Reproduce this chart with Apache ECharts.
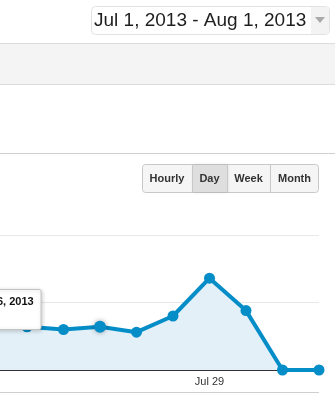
<!DOCTYPE html>
<html>
<head>
<meta charset="utf-8">
<script src="https://cdn.jsdelivr.net/npm/echarts@6/dist/echarts.min.js"></script>
<style>
html,body{margin:0;padding:0;background:#fff;}
#chart{width:335px;height:394px;}
</style>
</head>
<body>
<div id="chart"></div>
<script>
// Data (visible portion of a Jul 1 – Aug 1, 2013 daily chart)
var categories = ['Jul 23','Jul 24','Jul 25','Jul 26','Jul 27','Jul 28','Jul 29','Jul 30','Jul 31','Aug 1'];
var visits = [32, 32, 30, 32, 28, 40, 68, 44, 0, 0];
var xTickLabels = ['Jul 29'];
var yTicks = [0, 50, 100];
var dateRangeText = 'Jul 1, 2013 - Aug 1, 2013';
var periodButtons = ['Hourly', 'Day', 'Week', 'Month'];
var activeButton = 'Day';
var tooltipText = '6, 2013';
var hoveredIndex = 3;
var visibleStart = 0.26; // left edge of the cropped view, in days from Jul 23

var chart = echarts.init(document.getElementById('chart'), null, {renderer: 'canvas'});

var btnX = [142, 192, 227, 270, 319];
var graphics = [];
// date range box
graphics.push({type:'rect', shape:{x:91.5,y:6.5,width:238,height:28,r:4}, style:{fill:'#fff',stroke:'#e2e2e2',lineWidth:1}, z:10});
graphics.push({type:'rect', shape:{x:311,y:7,width:18,height:27,r:[0,3,3,0]}, style:{fill:'#f3f3f3'}, z:11});
graphics.push({type:'polygon', shape:{points:[[315,17],[325,17],[320,23]]}, style:{fill:'#aaa'}, z:12});
graphics.push({type:'text', x:94, y:20.5, style:{text:dateRangeText, font:'19px "Liberation Sans", Arial, sans-serif', fill:'#1e1e1e', verticalAlign:'middle'}, z:12});
// grey band
graphics.push({type:'rect', shape:{x:0,y:43,width:335,height:41}, style:{fill:'#f4f4f4'}, z:1});
graphics.push({type:'line', shape:{x1:0,y1:43.5,x2:335,y2:43.5}, style:{stroke:'#dcdcdc',lineWidth:1}, z:2});
graphics.push({type:'line', shape:{x1:0,y1:84.5,x2:335,y2:84.5}, style:{stroke:'#dcdcdc',lineWidth:1}, z:2});
// separator line
graphics.push({type:'line', shape:{x1:0,y1:153.5,x2:335,y2:153.5}, style:{stroke:'#cfcfcf',lineWidth:1}, z:2});
// bottom line
graphics.push({type:'line', shape:{x1:0,y1:392.5,x2:319,y2:392.5}, style:{stroke:'#cfcfcf',lineWidth:1}, z:2});
// buttons
graphics.push({type:'rect', shape:{x:142.5,y:164.5,width:176,height:28,r:3}, style:{fill:'#f5f5f5',stroke:'#c8c8c8',lineWidth:1}, z:10});
for (var i = 0; i < periodButtons.length; i++) {
  var x0 = btnX[i], x1 = btnX[i+1];
  if (periodButtons[i] === activeButton) {
    graphics.push({type:'rect', shape:{x:x0+0.5,y:165,width:x1-x0,height:27}, style:{fill:'#dedede',shadowBlur:3,shadowColor:'rgba(0,0,0,0.15)'}, z:11});
  }
  if (i > 0) {
    graphics.push({type:'line', shape:{x1:x0+0.5,y1:165,x2:x0+0.5,y2:192}, style:{stroke:'#c8c8c8',lineWidth:1}, z:12});
  }
  graphics.push({type:'text', x:(x0+x1)/2, y:179, style:{text:periodButtons[i], font:'bold 11px "Liberation Sans", Arial, sans-serif', fill:'#333', align:'center', verticalAlign:'middle'}, z:13});
}
// tooltip
graphics.push({type:'rect', shape:{x:-5,y:289.5,width:46,height:40,r:2}, style:{fill:'#fff',stroke:'#c4c4c4',lineWidth:1,shadowBlur:4,shadowColor:'rgba(0,0,0,0.2)',shadowOffsetX:1,shadowOffsetY:1}, z:50});
graphics.push({type:'text', x:-3, y:302, style:{text:tooltipText, font:'bold 11px "Liberation Sans", Arial, sans-serif', fill:'#111', verticalAlign:'middle'}, z:51});

var seriesData = visits.map(function(v, i){
  if (i === hoveredIndex) {
    return {value: [i, v], symbolSize: 12, itemStyle: {shadowBlur: 5, shadowColor: 'rgba(0,0,0,0.35)'}};
  }
  return [i, v];
});
var labelIdx = xTickLabels.map(function(l){ return categories.indexOf(l); });

chart.setOption({
  animation: false,
  grid: {left: 0, right: 16, top: 235, bottom: 24, containLabel: false},
  xAxis: {
    type: 'value',
    min: visibleStart,
    max: categories.length - 1,
    axisLine: {show: true, lineStyle: {color: '#333', width: 1}},
    axisTick: {show: false},
    axisLabel: {
      color: '#333', fontSize: 11, margin: 6,
      fontFamily: '"Liberation Sans", Arial, sans-serif',
      customValues: labelIdx,
      formatter: function(v){ return categories[Math.round(v)]; }
    },
    splitLine: {show: false}
  },
  yAxis: {
    type: 'value',
    min: yTicks[0], max: yTicks[yTicks.length-1], interval: yTicks[1]-yTicks[0],
    axisLine: {show: false}, axisTick: {show: false}, axisLabel: {show: false},
    splitLine: {show: true, lineStyle: {color: '#e8e8e8', width: 1}}
  },
  series: [{
    type: 'line',
    data: seriesData,
    symbol: 'circle',
    symbolSize: 11,
    showAllSymbol: true,
    clip: true,
    lineStyle: {color: '#058dc7', width: 4},
    itemStyle: {color: '#058dc7'},
    areaStyle: {color: '#e4f0f8', opacity: 1},
    z: 5
  }],
  graphic: {elements: graphics}
});
</script>
</body>
</html>
